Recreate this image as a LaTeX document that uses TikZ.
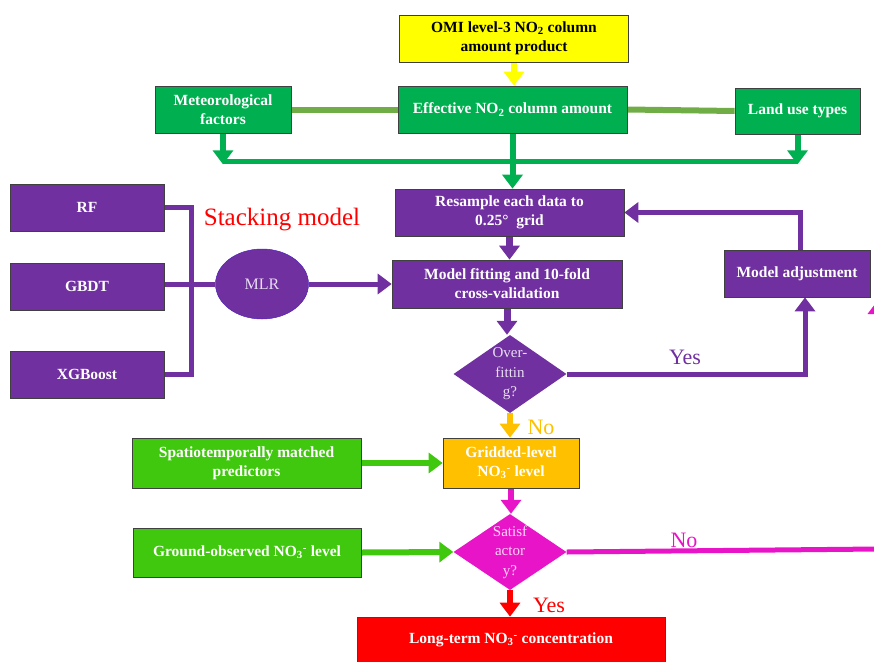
\documentclass[tikz,border=0pt]{standalone}
\usepackage{fontspec}
\setmainfont{Liberation Serif}
\usetikzlibrary{arrows.meta,shapes.geometric,backgrounds}
\definecolor{cpurple}{RGB}{112,48,160}
\definecolor{cgreen}{RGB}{0,176,80}
\definecolor{colive}{RGB}{112,173,71}
\definecolor{clime}{RGB}{64,200,14}
\definecolor{cmag}{RGB}{232,20,200}
\definecolor{corange}{RGB}{255,192,0}
\definecolor{cyellow}{RGB}{255,255,0}
\definecolor{cred}{RGB}{255,0,0}
\definecolor{ctxtp}{RGB}{232,222,242}
\definecolor{ctxtm}{RGB}{250,215,245}
\newcommand{\nothr}{NO\textsubscript{3}\textsuperscript{-}}
\newcommand{\notwo}{NO\textsubscript{2}}
\begin{document}
\begin{tikzpicture}[x=1pt,y=-1pt,
  box/.style n args={2}{rectangle,draw=black!75,line width=0.7pt,inner sep=0pt,
    align=center,text=white,minimum width=#1pt,minimum height=#2pt,
    font=\fontsize{15.5}{19}\selectfont\bfseries},
  dia/.style n args={2}{diamond,draw=none,inner sep=0pt,minimum width=#1pt,minimum height=#2pt},
  dtext/.style={align=center,font=\fontsize{15}{19.5}\selectfont},
  conn/.style={line width=5pt},
  tip/.style={-{Triangle[width=20pt,length=14pt]}},
  lab/.style={font=\fontsize{22}{24}\selectfont}
]
\useasboundingbox (0,0) rectangle (874,661);

% top nodes
\node[box={229}{47},fill=cyellow,text=black] (omi) at (514,38.5) {OMI level-3 \notwo{} column\\amount product};
\node[box={229}{47},fill=cgreen] (eff) at (512.5,109.5) {Effective \notwo{} column amount};
\node[box={136}{47},fill=cgreen] (met) at (223,109.5) {Meteorological\\factors};
\node[box={125}{46},fill=cgreen] (land) at (797.5,111) {Land use types};

% purple model nodes
\node[box={229}{47},fill=cpurple] (res) at (509.5,212.5) {Resample each data to\\0.25°\ \ grid};
\node[box={230}{48},fill=cpurple] (fit) at (507,284) {Model fitting and 10-fold\\cross-validation};
\node[box={146}{47},fill=cpurple] (adj) at (797,273.5) {Model adjustment};
\node[box={154}{47},fill=cpurple] (rf) at (87,207.5) {RF};
\node[box={154}{47},fill=cpurple] (gbdt) at (87,286.5) {GBDT};
\node[box={154}{47},fill=cpurple] (xgb) at (87,374.5) {XGBoost};
\node[ellipse,fill=cpurple,draw=cpurple!70!blue,line width=0.5pt,minimum width=93pt,minimum height=70pt,
  text=ctxtp,font=\fontsize{16}{18}\selectfont] (mlr) at (262,284) {MLR};
\node[dia={113}{78},fill=cpurple] (over) at (510,374) {};
\node[dtext,text=ctxtp] (overt) at (over.center) {Over-\\fittin\\g?};

% lower nodes
\node[box={136}{50},fill=corange] (grid) at (511,463) {Gridded-level\\\nothr{} level};
\node[box={229}{50},fill=clime] (spat) at (246.5,463) {Spatiotemporally matched\\predictors};
\node[dia={113}{76},fill=cmag] (sat) at (510,552) {};
\node[dtext,text=ctxtm] (satt) at (sat.center) {Satisf\\actor\\y?};
\node[box={228}{49},fill=clime] (ground) at (247,552.5) {Ground-observed \nothr{} level};
\node[box={308}{46},fill=cred] (long) at (511,640) {Long-term \nothr{} concentration};

% labels
\node[lab,text=cred,font=\fontsize{25}{27}\selectfont] (stack) at (282,220) {Stacking model};
\node[lab,text=cpurple] (yes1) at (685,357) {Yes};
\node[lab,text=corange] (no1) at (541,427) {No};
\node[lab,text=cmag] (no2) at (684,540) {No};
\node[lab,text=cred] (yes2) at (549,605) {Yes};

% coordinates
\coordinate (hl) at (223,161);
\coordinate (hr) at (798,161);
\coordinate (bx) at (191,284);
\coordinate (moff) at (878,549);
\coordinate (mtop) at (878,300);

\begin{pgfonlayer}{background}
% top connectors
\draw[cyellow,line width=6pt,tip] (omi.south) -- (omi.south |- eff.north);
\draw[colive,line width=6pt] (met.east) -- (eff.west);
\draw[colive,line width=6pt] (eff.east) -- (land.west);
\draw[cgreen,line width=5pt] (hl) -- (hr);
\draw[cgreen,line width=6pt,tip] (met.south) -- ++(0,31);
\draw[cgreen,line width=6pt,tip] (land.south) -- ++(0,30);
\draw[cgreen,line width=6pt,tip] (eff.south) -- (eff.south |- res.north);

% purple connectors
\draw[cpurple,line width=7pt,tip] (res.south) -- (res.south |- fit.north);
\draw[cpurple,line width=7pt,tip] (fit.south) -- (fit.south |- over.north);
\draw[cpurple,conn,tip] (over.east) -| ([xshift=8]adj.south);
\draw[cpurple,conn,tip] ([xshift=3]adj.north) |- (res.east);
\draw[cpurple,conn] (rf.east) -| (bx) |- (xgb.east);
\draw[cpurple,conn] (gbdt.east |- mlr) -- (mlr.west);
\draw[cpurple,conn,tip] (mlr.east) -- (fit.west);

% lower connectors
\draw[corange,line width=6pt,tip] (over.south) -- (over.south |- grid.north);
\draw[clime,line width=6pt,tip] (spat.east) -- (grid.west);
\draw[cmag,line width=6pt,tip] (grid.south) -- (grid.south |- sat.north);
\draw[clime,line width=6pt,tip] (ground.east) -- (sat.west);
\draw[cred,line width=6pt,tip] (sat.south) -- (sat.south |- long.north);
\draw[cmag,conn,tip] (sat.east) -- (moff) -- (mtop);
\end{pgfonlayer}
\end{tikzpicture}
\end{document}
